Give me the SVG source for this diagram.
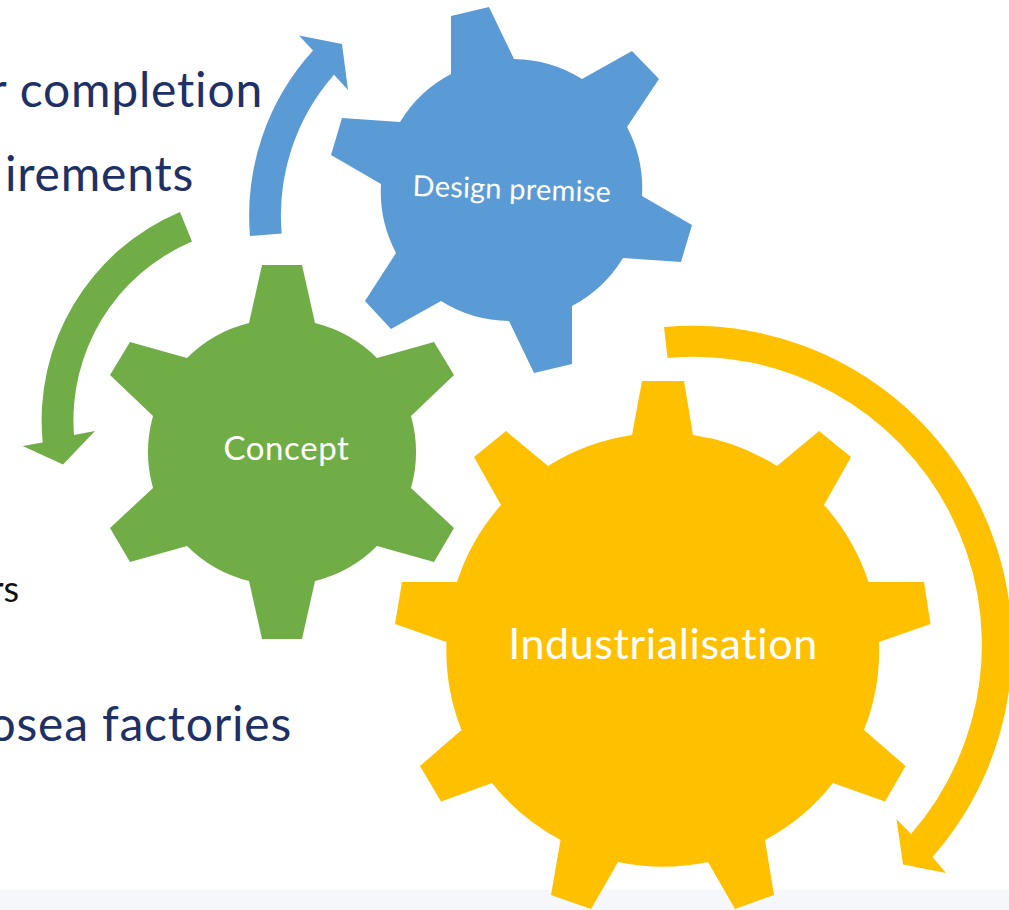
<svg xmlns="http://www.w3.org/2000/svg" width="1009" height="910" viewBox="0 0 1009 910">
<style>
text{font-family:"Lato","Open Sans","Noto Sans",sans-serif;font-variant-ligatures:none}
.gl{fill:#fff}
.bg{fill:#203064;font-size:48px;letter-spacing:0.8px}
.blue{fill:#5b9bd5}.green{fill:#70ad47}.yellow{fill:#ffc000}
</style>
<rect width="1009" height="910" fill="#fff"/>
<rect y="890" width="1009" height="20" fill="#f5f7fb"/>
<g id="background-text">
<text class="bg" x="263" y="107" text-anchor="end">r completion</text>
<text class="bg" x="194" y="191" text-anchor="end">irements</text>
<text x="19" y="602" text-anchor="end" font-size="36" fill="#111">rs</text>
<text class="bg" x="292" y="741" text-anchor="end">osea factories</text>
</g>
<g id="connectors">
<path class="blue" d="M250 236A245 245 0 0 1 313 50.6L299 35.5L342 44L348 90L334 74.7A213 213 0 0 0 281.7 233.6Z"/>
<path class="green" d="M180 212A226 226 0 0 0 42.7 442.4L22.7 446L63 464.5L95 431L74 435A194 194 0 0 1 192 241.5Z"/>
<path class="yellow" d="M664 327A320 320 0 0 1 932.5 857L946 873L903 864.4L896.5 819L911 834A288 288 0 0 0 667.5 358Z"/>
</g>
<g id="node-design-premise">
<path class="blue" d="M451 16L489 7L514 59A131 131 0 0 1 582 79L632 51L659 79L627 127A131 131 0 0 1 642 196L692 225L681 262L623 258A131 131 0 0 1 572 306L572 364L534 373L509 321A131 131 0 0 1 441 301L391 329L365 301L396 253A131 131 0 0 1 381 184L331 155L342 118L400 122A131 131 0 0 1 451 74Z"/>
<text class="gl" x="511.5" y="199" text-anchor="middle" font-size="29" letter-spacing="0.2" transform="rotate(1.8 511 199)">Design premise</text>
</g>
<g id="node-concept">
<path class="green" d="M262 265L302 265L315 323A133 133 0 0 1 377 358L434 342L454 375L411 416A133 133 0 0 1 411 488L454 528L434 562L377 546A133 133 0 0 1 315 581L302 639L262 639L249 581A133 133 0 0 1 187 546L130 562L110 528L153 488A133 133 0 0 1 153 416L110 375L130 342L187 358A133 133 0 0 1 249 323Z"/>
<text class="gl" x="286.5" y="460" text-anchor="middle" font-size="33" letter-spacing="0.6">Concept</text>
</g>
<g id="node-industrialisation">
<path class="yellow" d="M642 381L684 381L693 435A216 216 0 0 1 777 466L819 431L851 457L824 505A216 216 0 0 1 868.5 582L924 582L930.5 624L879 642A216 216 0 0 1 864 730L905.6 766L885 801.6L833 783A216 216 0 0 1 765 840L774 895L735 909L708 862A216 216 0 0 1 618 862L591 909L551 895L560.5 840A216 216 0 0 1 492 783L441 801.6L420 766L461.5 730A216 216 0 0 1 446.5 642L395 624L402 582L457 582A216 216 0 0 1 501 505L474 457L506 431L548 466A216 216 0 0 1 632 435Z"/>
<text class="gl" x="663" y="659" text-anchor="middle" font-size="43" letter-spacing="0.6">Industrialisation</text>
</g>
</svg>
